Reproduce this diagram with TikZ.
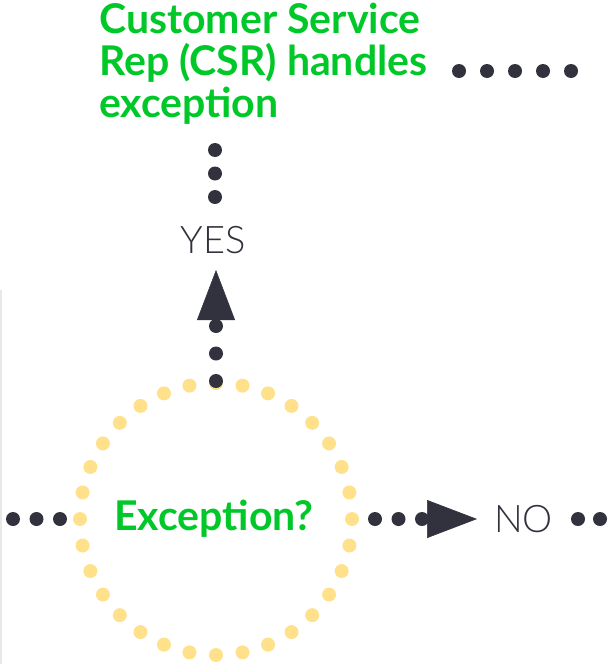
\documentclass[tikz,border=0pt]{standalone}
\usepackage{fontspec}
\setmainfont{Lato}
\newfontfamily\lightfont{Lato Light}
\usetikzlibrary{arrows.meta}
\definecolor{csrgreen}{RGB}{0,200,40}
\definecolor{dotgray}{RGB}{50,50,62}
\definecolor{dotyellow}{RGB}{255,225,140}
\tikzset{
  dots/.style={draw=dotgray, line width=14pt, line cap=round, dash pattern=on 0pt off #1},
  dots/.default=23.5pt,
  bigarrow/.style={draw=dotgray, line width=0.5pt, -{Triangle[length=50pt,width=38pt]}},
  greentext/.style={text=csrgreen, font=\fontsize{41}{42}\selectfont\bfseries},
  answer/.style={text=dotgray, font=\fontsize{38}{40}\selectfont\lightfont, inner sep=0pt}
}
\begin{document}
\begin{tikzpicture}[x=1pt,y=-1pt]
        \useasboundingbox (0,0) rectangle (607,664);
        \draw[color=black!9, line width=2pt] (1,290) -- (1,664);
        % decision circle
        \node[greentext, minimum size=272pt, circle] (q) at (214,519) {Exception?};
        \foreach \a in {0,11.25,...,359} \fill[dotyellow] (216,519) ++(\a:136) circle (7pt);
        % top box text
        \node[greentext, anchor=north west, align=left, inner sep=0pt] (csr) at (99,3) {Customer Service\\Rep (CSR) handles\\exception};
        \node[answer] (yes) at (213,240) {YES};
        \node[answer, anchor=west] (no) at (494,519) {NO};
        % connectors
        \coordinate (in) at (13,519);
        \coordinate (up1) at (216,326);
        \coordinate (up2) at (216,270);
        \coordinate (rt1) at (375,519);
        \coordinate (rt2) at (477,519);
        \coordinate (out) at (600,519);
        \coordinate (top1) at (215,150);
        \coordinate (side1) at (459,71);
        \coordinate (side2) at (575,71);
        \draw[dots] (in) -- (60.5,519);
        \draw[dots=27.5pt] (216,381) -- (up1);
        \draw[bigarrow] (216,322) -- (up2);
        \draw[dots] (rt1) -- (422,519);
        \draw[bigarrow] (425,519) -- (rt2);
        \draw[dots=22pt] (578,519) -- (out);
        \draw[dots] (top1) -- (215,197);
        \draw[dots=28pt] (side1) -- (side2);
    \end{tikzpicture}
\end{document}
